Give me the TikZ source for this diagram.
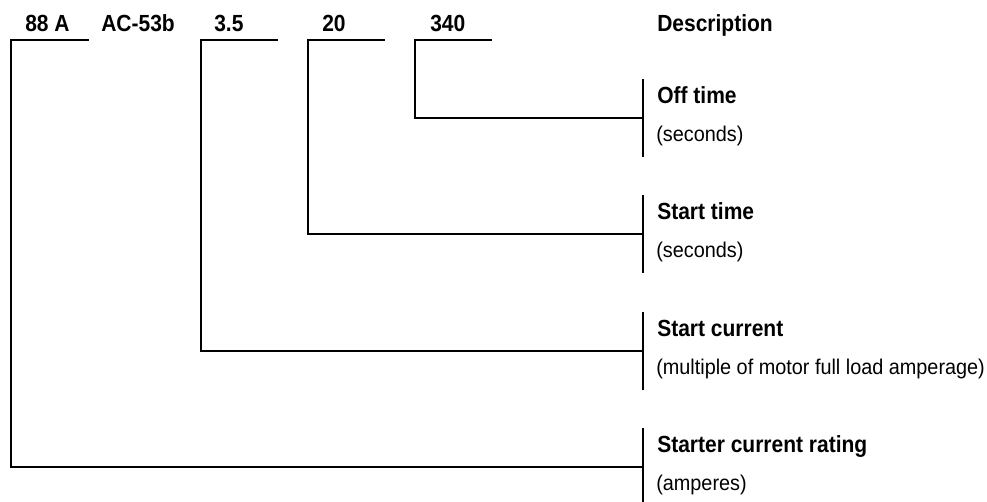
\documentclass[tikz,border=0pt]{standalone}
\usepackage{fontspec}
\setmainfont[FakeStretch=0.93]{Liberation Sans}
\newfontfamily\hb[FakeStretch=0.9]{Liberation Sans}
\begin{document}
\begin{tikzpicture}[x=0.75pt,y=-0.75pt,
  ln/.style={line width=1.5pt, line cap=rect},
  hd/.style={anchor=base west, inner sep=0pt, font=\hb\bfseries\fontsize{17.5}{20}\selectfont},
  sub/.style={anchor=base west, inner sep=0pt, font=\fontsize{16}{19}\selectfont}]
\useasboundingbox (0,0) rectangle (987,501);
% top labels
\node[hd] (l1) at (25,31) {88 A};
\node[hd] (l2) at (101,31) {AC-53b};
\node[hd] (l3) at (214,31) {3.5};
\node[hd] (l4) at (322,31) {20};
\node[hd] (l5) at (430,31) {340};
\node[hd] (ld) at (657,31) {Description};
% top segment coordinates
\coordinate (s1) at (11,40);  \coordinate (e1) at (88,40);
\coordinate (s2) at (201,40); \coordinate (e2) at (277,40);
\coordinate (s3) at (308,40); \coordinate (e3) at (384,40);
\coordinate (s4) at (415,40); \coordinate (e4) at (491,40);
% bars
\coordinate (b4) at (643,118);
\coordinate (b3) at (643,234);
\coordinate (b2) at (643,351);
\coordinate (b1) at (643,467);
\foreach \b in {b1,b2,b3,b4}{
  \draw[ln,line cap=butt] ([yshift=29.25pt]\b) -- ([yshift=-29.25pt]\b);
}
% connectors
\draw[ln] (e1) -- (s1) |- (b1);
\draw[ln] (e2) -- (s2) |- (b2);
\draw[ln] (e3) -- (s3) |- (b3);
\draw[ln] (e4) -- (s4) |- (b4);
% descriptions
\node[hd] (h4) at (657,103) {Off time};
\node[sub] (d4) at (656,141) {(seconds)};
\node[hd] (h3) at (657,219) {Start time};
\node[sub] (d3) at (656,257) {(seconds)};
\node[hd] (h2) at (657,336) {Start current};
\node[sub] (d2) at (656,374) {(multiple of motor full load amperage)};
\node[hd] (h1) at (657,452) {Starter current rating};
\node[sub] (d1) at (656,490) {(amperes)};
\end{tikzpicture}
\end{document}
